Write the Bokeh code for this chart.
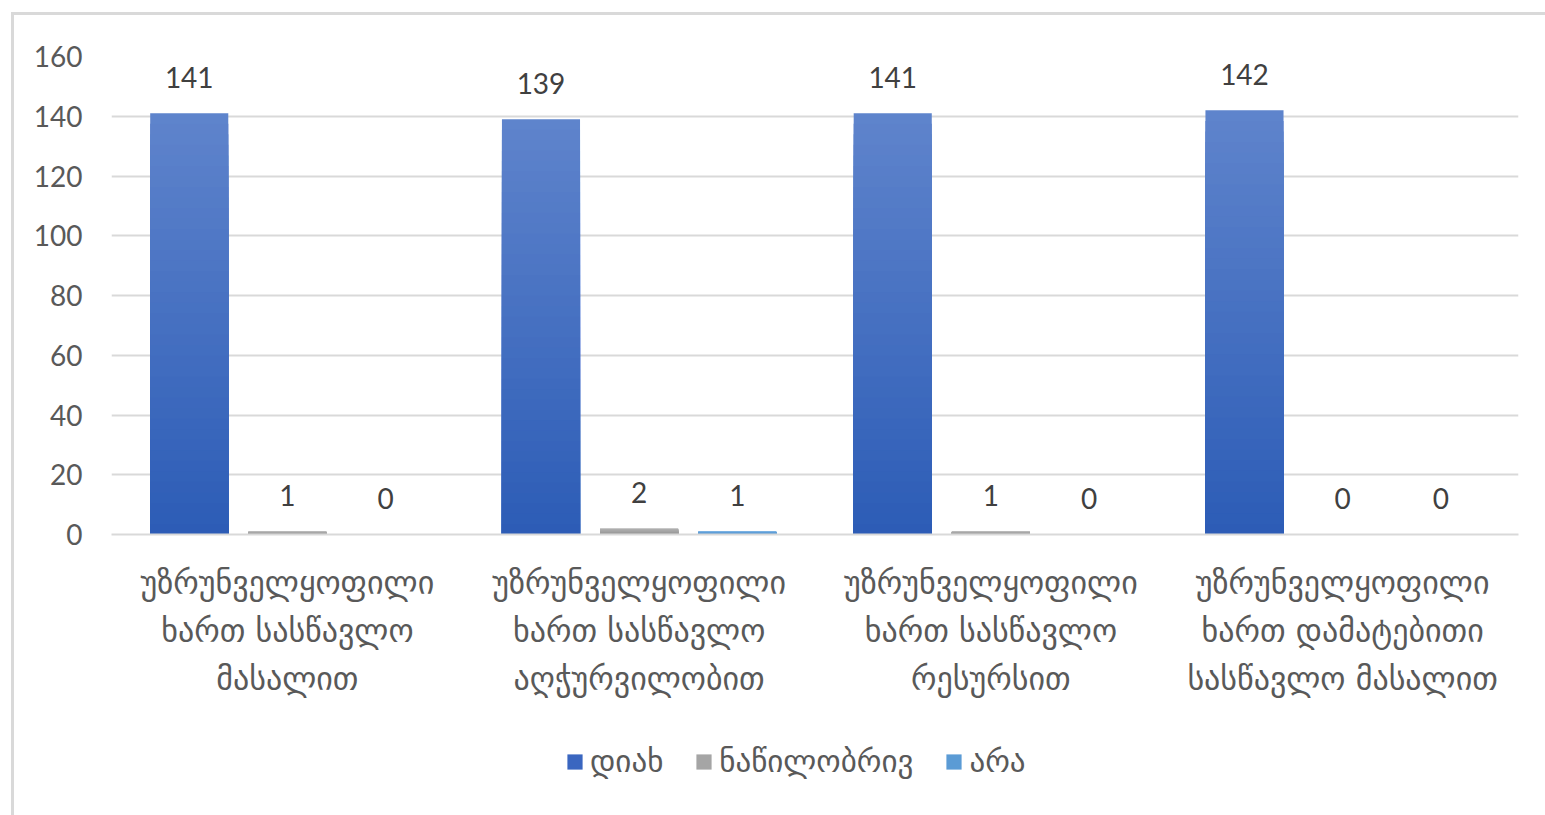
from bokeh.plotting import figure
from bokeh.layouts import column
from bokeh.models import (FactorRange, Legend, LegendItem, ColumnDataSource, FixedTicker,
                          CategoricalAxis, CustomJSTickFormatter)
from bokeh.transform import dodge
from bokeh.core.properties import value
from bokeh.embed import file_html
from bokeh.resources import INLINE

category_lines = [
    ["უზრუნველყოფილი", "ხართ სასწავლო", "მასალით"],
    ["უზრუნველყოფილი", "ხართ სასწავლო", "აღჭურვილობით"],
    ["უზრუნველყოფილი", "ხართ სასწავლო", "რესურსით"],
    ["უზრუნველყოფილი", "ხართ დამატებითი", "სასწავლო მასალით"],
]
categories = ["|".join(l) for l in category_lines]
series_names = ["დიახ", "ნაწილობრივ", "არა"]
yes_vals = [141, 139, 141, 142]
partly_vals = [1, 2, 1, 0]
no_vals = [0, 1, 0, 0]
y_ticks = [0, 20, 40, 60, 80, 100, 120, 140, 160]

GEO = "DejaVu Sans"
NUM = "Lato"
GEO_SIZE = "32px"

p = figure(
    x_range=FactorRange(*categories), y_range=(0, 160),
    width=1531, height=720, output_backend="svg", toolbar_location=None,
    min_border_left=97, min_border_right=27, min_border_top=41, min_border_bottom=201,
)
p.outline_line_color = None
p.background_fill_color = "white"
p.border_fill_color = "white"

p.xgrid.grid_line_color = None
p.ygrid.grid_line_color = "#d9d9d9"
p.ygrid.grid_line_width = 2
p.yaxis.ticker = FixedTicker(ticks=y_ticks)
p.yaxis.axis_line_color = None
p.yaxis.major_tick_line_color = None
p.yaxis.minor_tick_line_color = None
p.yaxis.major_label_text_font = NUM
p.yaxis.major_label_text_font_size = "28px"
p.yaxis.major_label_text_color = "#595959"
p.yaxis.major_label_standoff = 23

# category labels: one axis per text line
xa = p.xaxis[0]
axes = [xa]
for k in range(1, 3):
    ax = CategoricalAxis()
    p.add_layout(ax, "below")
    axes.append(ax)
for k, ax in enumerate(axes):
    ax.formatter = CustomJSTickFormatter(args=dict(k=k), code="return String(tick).split('|')[k];")
    ax.major_tick_line_color = None
    ax.minor_tick_line_color = None
    ax.major_label_text_font = GEO
    ax.major_label_text_font_size = GEO_SIZE
    ax.major_label_text_color = "#595959"
    ax.major_label_orientation = "horizontal"
    ax.major_label_standoff = 23 if k == 0 else 1
    if k > 0:
        ax.axis_line_color = None
xa.axis_line_color = "#d9d9d9"
xa.axis_line_width = 2


def hexmix(c1, c2, t):
    a = [int(c1[i:i + 2], 16) for i in (1, 3, 5)]
    b = [int(c2[i:i + 2], 16) for i in (1, 3, 5)]
    return "#%02x%02x%02x" % tuple(round(a[k] + (b[k] - a[k]) * t) for k in range(3))


series = [
    (yes_vals, -0.279, "#5f84cc", "#2c5cb6", "#3a66c0"),
    (partly_vals, 0.0, "#b4b4b4", "#939393", "#a5a5a5"),
    (no_vals, 0.279, "#6eaae0", "#4a8ccb", "#5b9bd5"),
]
N = 40
for (vals, off, top_c, bot_c, _), name in zip(series, series_names):
    for i in reversed(range(N)):
        src = ColumnDataSource(dict(
            cat=categories,
            top=[v * (i + 1) / N for v in vals],
        ))
        col = hexmix(bot_c, top_c, (i + 0.5) / N)
        p.vbar(x=dodge("cat", off, range=p.x_range), top="top", bottom=0,
               width=0.222, source=src, fill_color=col, line_color=None)
    lsrc = ColumnDataSource(dict(cat=categories, v=vals, t=[str(v) for v in vals]))
    p.text(x=dodge("cat", off, range=p.x_range), y="v", text="t", source=lsrc,
           text_align="center", text_baseline="alphabetic", y_offset=-36,
           text_font=value(NUM), text_font_size="28px", text_color="#404040")

# legend strip below the chart (swatch renderers have zero height, so only the legend shows them)
lg = figure(width=1531, height=80, output_backend="svg", toolbar_location=None,
            min_border=0, x_axis_type=None, y_axis_type=None)
lg.outline_line_color = None
lg.xgrid.grid_line_color = None
lg.ygrid.grid_line_color = None
legend_items = []
for (vals, _, _, _, sw), name in zip(series, series_names):
    r = lg.vbar(x=list(range(len(vals))), top=vals, bottom=vals, width=0.2,
                fill_color=sw, line_color=None)
    legend_items.append(LegendItem(label=name, renderers=[r], index=0))
legend = Legend(items=legend_items, orientation="horizontal", location=(454, 36),
                label_text_font=GEO, label_text_font_size="31px", label_text_color="#595959",
                glyph_width=19, glyph_height=19, label_standoff=6, spacing=31,
                padding=8, margin=0,
                border_line_color=None, background_fill_alpha=0)
lg.add_layout(legend, "center")

layout = column(p, lg, spacing=0)
layout.styles = {"margin-left": "11px", "margin-top": "12px",
                 "border-left": "3px solid #d9d9d9", "border-top": "3px solid #d9d9d9"}

open("out.html", "w").write(file_html(layout, INLINE))
